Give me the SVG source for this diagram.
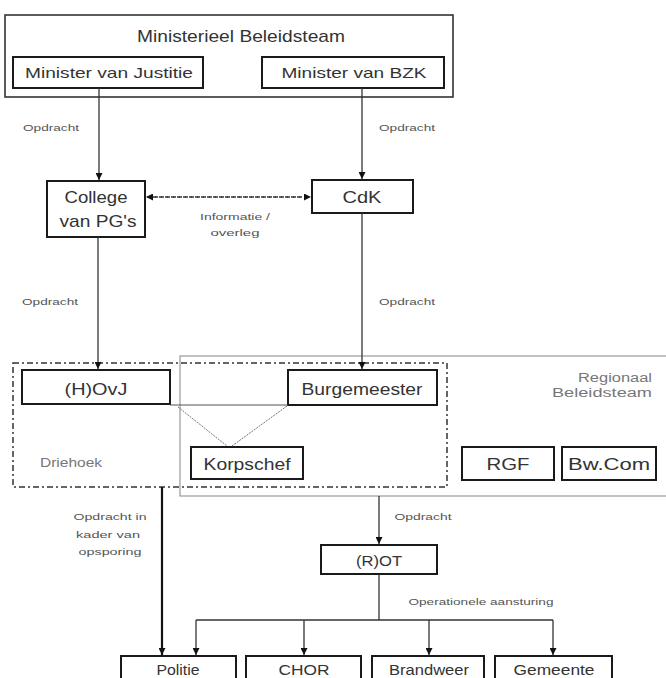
<svg xmlns="http://www.w3.org/2000/svg" width="666" height="678" viewBox="0 0 666 678">
<style>
.bx{fill:#fff;stroke:#1a1a1a;stroke-width:2}
.t{font-family:"Liberation Sans",Arial,sans-serif;fill:#333;text-anchor:middle}
.m{font-size:15px}
.b{font-size:17px}
.s{font-family:"Liberation Sans",Arial,sans-serif;font-size:9px;fill:#555;text-anchor:middle}
.g{font-family:"Liberation Sans",Arial,sans-serif;font-size:12px;fill:#777}
.ln{fill:none;stroke:#333;stroke-width:1.3}
</style>
<defs>
<marker id="ah" viewBox="0 0 10 10" refX="10" refY="5" markerWidth="7" markerHeight="7" orient="auto" markerUnits="userSpaceOnUse">
<path d="M0,0 L10,5 L0,10 z" fill="#111"/>
</marker>
</defs>
<rect width="666" height="678" fill="#fff"/>

<g id="regionaal-beleidsteam">
<rect x="180" y="356" width="490" height="140" fill="none" stroke="#999" stroke-width="1.2"/>
<text class="g" x="652" y="382" text-anchor="end" textLength="74" lengthAdjust="spacingAndGlyphs">Regionaal</text>
<text class="g" x="652" y="397" text-anchor="end" textLength="100" lengthAdjust="spacingAndGlyphs">Beleidsteam</text>
</g>

<g id="driehoek">
<rect x="13" y="363" width="434" height="124" fill="none" stroke="#333" stroke-width="1.5" stroke-dasharray="6 3 2 3"/>
<text class="g" x="40" y="467" textLength="62" lengthAdjust="spacingAndGlyphs">Driehoek</text>
</g>

<g id="ministerieel-beleidsteam">
<rect x="5" y="15" width="448" height="82" fill="#fff" stroke="#333" stroke-width="1.6"/>
<text class="t b" x="241" y="42" textLength="208" lengthAdjust="spacingAndGlyphs">Ministerieel Beleidsteam</text>
</g>

<g id="minister-justitie">
<rect class="bx" x="13" y="57" width="190" height="31"/>
<text class="t m" x="109" y="78" textLength="168" lengthAdjust="spacingAndGlyphs">Minister van Justitie</text>
</g>

<g id="minister-bzk">
<rect class="bx" x="262" y="57" width="182" height="31"/>
<text class="t m" x="354" y="78" textLength="145" lengthAdjust="spacingAndGlyphs">Minister van BZK</text>
</g>

<g id="college">
<rect class="bx" x="47" y="181" width="98" height="56"/>
<text class="t b" x="96" y="203" textLength="63" lengthAdjust="spacingAndGlyphs">College</text>
<text class="t b" x="98" y="227" textLength="77" lengthAdjust="spacingAndGlyphs">van PG's</text>
</g>

<g id="cdk">
<rect class="bx" x="312" y="180" width="101" height="33"/>
<text class="t b" x="362" y="203" textLength="39" lengthAdjust="spacingAndGlyphs">CdK</text>
</g>

<g id="hovj">
<rect class="bx" x="22" y="370" width="148" height="34"/>
<text class="t b" x="96" y="395" textLength="63" lengthAdjust="spacingAndGlyphs">(H)OvJ</text>
</g>

<g id="burgemeester">
<rect class="bx" x="288" y="370" width="149" height="35"/>
<text class="t b" x="362" y="395" textLength="121" lengthAdjust="spacingAndGlyphs">Burgemeester</text>
</g>

<g id="korpschef">
<rect class="bx" x="191" y="447" width="112" height="32"/>
<text class="t b" x="247" y="470" textLength="87" lengthAdjust="spacingAndGlyphs">Korpschef</text>
</g>

<g id="rgf">
<rect class="bx" x="462" y="447" width="92" height="33"/>
<text class="t b" x="508" y="470" textLength="43" lengthAdjust="spacingAndGlyphs">RGF</text>
</g>

<g id="bwcom">
<rect class="bx" x="562" y="447" width="94" height="33"/>
<text class="t b" x="609" y="470" textLength="82" lengthAdjust="spacingAndGlyphs">Bw.Com</text>
</g>

<g id="rot">
<rect class="bx" x="321" y="545" width="116" height="29"/>
<text class="t m" x="379" y="566" textLength="46" lengthAdjust="spacingAndGlyphs">(R)OT</text>
</g>

<g id="politie">
<rect class="bx" x="121" y="656" width="115" height="30"/>
<text class="t m" x="178" y="675" textLength="43" lengthAdjust="spacingAndGlyphs">Politie</text>
</g>
<g id="chor">
<rect class="bx" x="246" y="656" width="115" height="30"/>
<text class="t m" x="304" y="675" textLength="51" lengthAdjust="spacingAndGlyphs">CHOR</text>
</g>
<g id="brandweer">
<rect class="bx" x="372" y="656" width="112" height="30"/>
<text class="t m" x="429" y="675" textLength="80" lengthAdjust="spacingAndGlyphs">Brandweer</text>
</g>
<g id="gemeente">
<rect class="bx" x="495" y="656" width="117" height="30"/>
<text class="t m" x="554" y="675" textLength="81" lengthAdjust="spacingAndGlyphs">Gemeente</text>
</g>

<g id="connectors">
<path class="ln" d="M99,88 V180" marker-end="url(#ah)"/>
<path class="ln" d="M362,88 V179" marker-end="url(#ah)"/>
<path class="ln" d="M155,197 H311" stroke-dasharray="3 3" marker-end="url(#ah)"/>
<path class="ln" d="M300,197 H146" stroke-dasharray="3 3" marker-end="url(#ah)"/>
<path class="ln" d="M98,237 V369" marker-end="url(#ah)"/>
<path class="ln" d="M362,213 V369" marker-end="url(#ah)"/>
<path d="M170,405 H288" fill="none" stroke="#555" stroke-width="1"/>
<path d="M178,407 L227,446 M232,446 L287,406" fill="none" stroke="#777" stroke-width="1" stroke-dasharray="2 1"/>
<path d="M162,487 V655" fill="none" stroke="#111" stroke-width="2.2" marker-end="url(#ah)"/>
<path class="ln" d="M379,496 V544" marker-end="url(#ah)"/>
<path class="ln" d="M379,574 V620 M196,620 H553"/>
<path class="ln" d="M196,620 V655" marker-end="url(#ah)"/>
<path class="ln" d="M304,620 V655" marker-end="url(#ah)"/>
<path class="ln" d="M429,620 V655" marker-end="url(#ah)"/>
<path class="ln" d="M553,620 V655" marker-end="url(#ah)"/>
<text class="s" x="51" y="131" textLength="56" lengthAdjust="spacingAndGlyphs">Opdracht</text>
<text class="s" x="407" y="131" textLength="56" lengthAdjust="spacingAndGlyphs">Opdracht</text>
<text class="s" x="50" y="305" textLength="56" lengthAdjust="spacingAndGlyphs">Opdracht</text>
<text class="s" x="407" y="305" textLength="56" lengthAdjust="spacingAndGlyphs">Opdracht</text>
<text class="s" x="235" y="220" textLength="70" lengthAdjust="spacingAndGlyphs">Informatie /</text>
<text class="s" x="235" y="236" textLength="49" lengthAdjust="spacingAndGlyphs">overleg</text>
<text class="s" x="423" y="520" textLength="57" lengthAdjust="spacingAndGlyphs">Opdracht</text>
<text class="s" x="110" y="520" textLength="73" lengthAdjust="spacingAndGlyphs">Opdracht in</text>
<text class="s" x="108" y="538" textLength="64" lengthAdjust="spacingAndGlyphs">kader van</text>
<text class="s" x="110" y="555" textLength="63" lengthAdjust="spacingAndGlyphs">opsporing</text>
<text class="s" x="481" y="605" textLength="145" lengthAdjust="spacingAndGlyphs">Operationele aansturing</text>
</g>
</svg>
